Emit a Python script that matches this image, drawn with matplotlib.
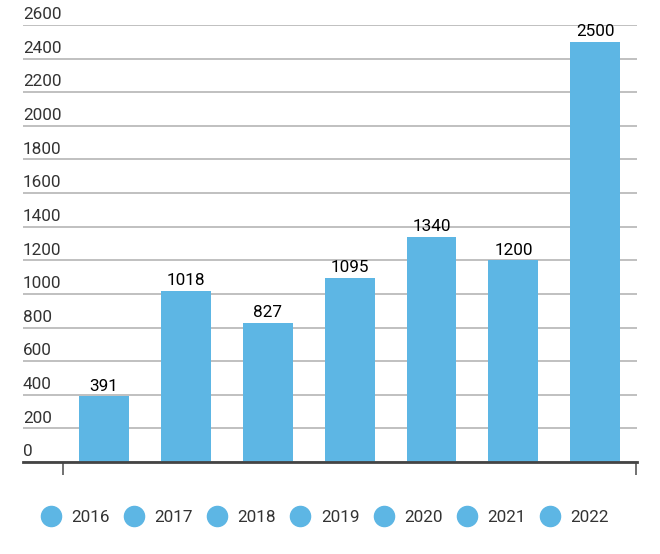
import matplotlib.pyplot as plt
from matplotlib.lines import Line2D
import matplotlib.transforms as mtransforms

plt.rcParams['font.family'] = ['Roboto', 'DejaVu Sans']

# Дані
years = ['2016', '2017', '2018', '2019', '2020', '2021', '2022']
values = [391, 1018, 827, 1095, 1340, 1200, 2500]
y_ticks = list(range(0, 2601, 200))

bar_color = '#5DB6E4'
fs = 12.3

fig = plt.figure(figsize=(6.6, 5.54), dpi=100)
ax = fig.add_axes([23 / 660, 1 - 462 / 554, (637 - 23) / 660, (462 - 25) / 554])

x = list(range(len(years)))
bars = ax.bar(x, values, width=0.61, color=bar_color, zorder=2)

# Підписи значень над стовпцями
for xi, v in zip(x, values):
    ax.annotate(str(v), (xi, v), xytext=(0, 2), textcoords='offset points',
                ha='center', va='bottom', fontsize=fs, color='#000000')

ax.set_xlim(-0.99, 6.51)
ax.set_ylim(0, 2600)

# Сітка і підписи осі y над лініями
ax.set_yticks(y_ticks)
ax.set_yticklabels([])
ax.tick_params(axis='y', length=0)
ax.yaxis.grid(True, color='#BBBBBB', linewidth=1.3, zorder=0)
ax.set_axisbelow(True)
trans = mtransforms.blended_transform_factory(ax.transAxes, ax.transData)
for t in y_ticks:
    ax.annotate(str(t), (0, t), xycoords=trans, xytext=(0, 2), textcoords='offset points',
                ha='left', va='bottom', fontsize=fs, color='#333333')

ax.set_xticks([-0.5, 6.5])
ax.set_xticklabels([])
ax.tick_params(axis='x', length=9, width=1.3, color='#666666', direction='out')

for s in ['top', 'right', 'left']:
    ax.spines[s].set_visible(False)
ax.spines['bottom'].set_color('#444444')
ax.spines['bottom'].set_linewidth(2)

# Легенда
handles = [Line2D([], [], marker='o', linestyle='', markersize=14.5,
                  markerfacecolor=bar_color, markeredgecolor=bar_color) for _ in years]
fig.legend(handles, years, loc='center', bbox_to_anchor=(0.492, 1 - 517 / 554),
           ncol=7, frameon=False, fontsize=fs, handletextpad=0.6,
           columnspacing=0.82, handlelength=1.2, labelcolor='#333333')

fig.savefig('out.png', dpi=100)
